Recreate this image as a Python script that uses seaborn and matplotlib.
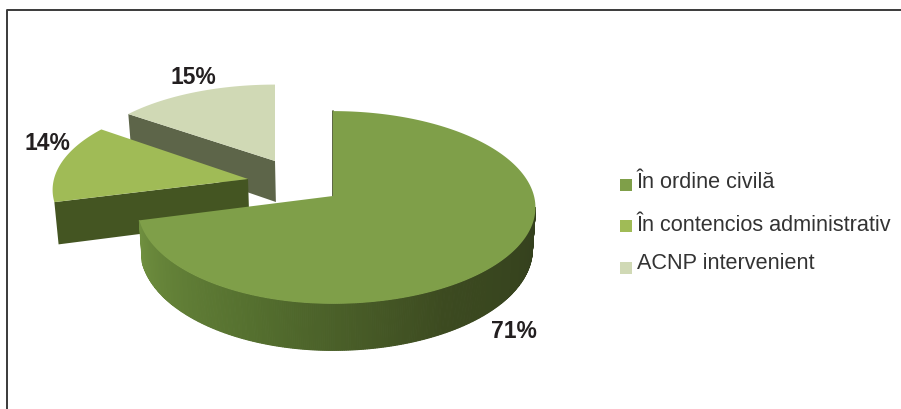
import numpy as np
import matplotlib
matplotlib.use("Agg")
import matplotlib.pyplot as plt
import seaborn as sns

# Chart values
categories = ["În ordine civilă", "În contencios administrativ", "ACNP intervenient"]
shares = [71, 14, 15]
labels = ["71%", "14%", "15%"]

# Colours: top face and wall of each slice
top_colors = ["#7f9f49", "#a0bb56", "#d0d9b5"]
wall_colors = ["#3f4d22", "#445522", "#5d6549"]

sns.set_theme(style="white")
plt.rcParams["font.family"] = ["Liberation Sans", "DejaVu Sans"]

# Fake 3D view: disc centre of each exploded slice in pixels, and its vertical squash
centers = [(333, 197), (248, 180), (275, 162)]
squash = [1.0, 0.95, 0.9]
RX_RIGHT, RX_LEFT, RY, PERSP, DEPTH = 201, 194, 95, 0.119, 41


def project(i, theta, r=1.0, down=0.0):
    # theta runs clockwise from 12 o'clock, r is the share of the radius
    cx, cy = centers[i]
    x = r * np.sin(theta)
    y = r * np.cos(theta)
    s = 1 / (1 + PERSP * y)
    px = cx + (RX_RIGHT if x > 0 else RX_LEFT) * x * s
    # lower rim leans in towards the middle of the view
    px = centers[0][0] + (px - centers[0][0]) * (1 - 0.00037 * down)
    return px, cy - RY * squash[i] * y * s + down * s


fig = plt.figure(figsize=(9.01, 4.10), dpi=100)
ax = fig.add_axes([0, 0, 1, 1])
ax.set_xlim(0, 901)
ax.set_ylim(410, 0)
ax.axis("off")

# Chart border
ax.plot([6.5, 6.5, 901], [410, 11, 11], color="#3a3a3a", lw=1.4, zorder=1)

bounds = np.cumsum([0] + shares) / sum(shares) * 2 * np.pi

# Back to front: ACNP slice, contencios slice, big slice
for i in [2, 1, 0]:
    c = centers[i]
    th = np.linspace(bounds[i], bounds[i + 1], 200)
    zo = 10 + (2 - i) * 10

    if i == 0:
        # big slice outer wall, shaded from dark on the right to olive on the left
        front = np.linspace(np.pi / 2 + 0.12, bounds[1], 300)
        shades = sns.blend_palette(["#333f1d", "#3c4a20", "#55702f", "#6f8f3f"], len(front) - 1)
        for k in range(len(front) - 1):
            a, b = front[k], front[k + 1]
            p = [project(i, a), project(i, b), project(i, b, down=DEPTH), project(i, a, down=DEPTH)]
            ax.fill(*zip(*p), color=shades[k], lw=0.8, zorder=zo)
        # thin wall behind the first edge
        ax.plot(*zip(project(i, 0, 0), project(i, 0, 1)), color="#3f4d22", lw=1.2, zorder=zo)
    else:
        # radial wall at the start edge of the slice
        a = bounds[i]
        p = [project(i, a, 0), project(i, a), project(i, a, down=DEPTH), project(i, a, 0, down=DEPTH)]
        ax.fill(*zip(*p), color=wall_colors[i], lw=0, zorder=zo)

    # top face
    xs, ys = zip(*[project(i, t) for t in th])
    ax.fill([c[0], *xs], [c[1], *ys], color=top_colors[i], lw=0, zorder=zo + 1)

# Value labels
label_pos = [(514, 332), (47, 144), (193, 78)]
for lab, pos in zip(labels, label_pos):
    ax.text(*pos, lab, ha="center", va="center", fontsize=16.5, fontweight="bold",
            color="#231f20", zorder=50)

# Legend
legend_y = [183, 226, 264]
square_y = [186, 227, 269]
for cat, col, y, sy in zip(categories, top_colors, legend_y, square_y):
    ax.scatter([625.5], [sy], marker="s", s=86, color=col, linewidths=0, zorder=50)
    ax.text(637, y, cat, ha="left", va="center", fontsize=15.6, color="#333333", zorder=50)

fig.savefig("out.png", dpi=100)
